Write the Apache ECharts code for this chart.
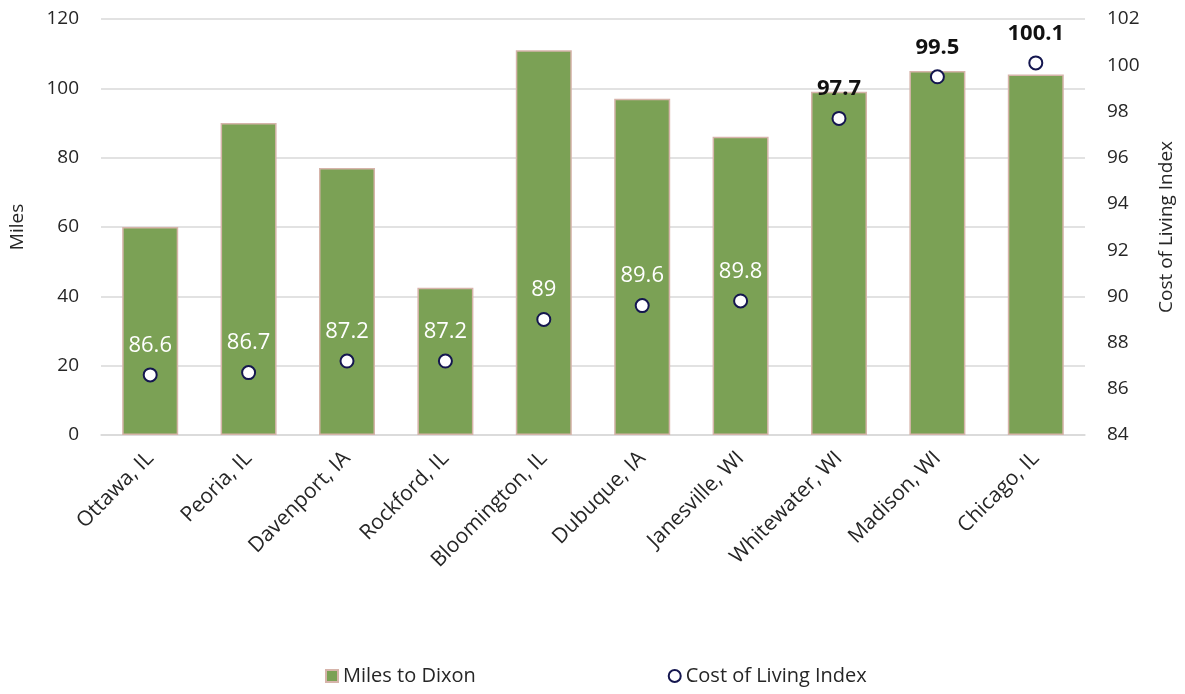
<!DOCTYPE html>
<html>
<head>
<meta charset="utf-8">
<script src="https://cdn.jsdelivr.net/npm/echarts@6/dist/echarts.min.js"></script>
<style>
  html, body { margin: 0; padding: 0; background: #ffffff; }
  #chart { width: 1185px; height: 694px; }
</style>
</head>
<body>
<div id="chart"></div>
<script>
// Cities compared against Dixon, IL
const cities = ['Ottawa, IL', 'Peoria, IL', 'Davenport, IA', 'Rockford, IL', 'Bloomington, IL',
                'Dubuque, IA', 'Janesville, WI', 'Whitewater, WI', 'Madison, WI', 'Chicago, IL'];
// Driving distance to Dixon (miles)
const milesToDixon = [60, 90, 77, 42.5, 111, 97, 86, 99, 105, 104];
// Cost of living index
const costOfLiving = [86.6, 86.7, 87.2, 87.2, 89, 89.6, 89.8, 97.7, 99.5, 100.1];

const milesAxis = { min: 0, max: 120, interval: 20 };
const indexAxis = { min: 84, max: 102, interval: 2 };

const FONT = '"Open Sans", "Noto Sans", sans-serif';
const TEXT = '#262626';
const GRID = '#d9d9d9';

// A label sits over its bar (white) unless the point rises past the bar top (dark)
function labelSitsOnBar(i) {
  const asMiles = (costOfLiving[i] - indexAxis.min) / (indexAxis.max - indexAxis.min) * milesAxis.max;
  return asMiles + 9 < milesToDixon[i];
}

const pointData = costOfLiving.map((v, i) => {
  const onBar = labelSitsOnBar(i);
  return {
    value: v,
    label: {
      color: onBar ? '#ffffff' : '#111111',
      fontWeight: onBar ? 'normal' : 'bold'
    }
  };
});

const chart = echarts.init(document.getElementById('chart'), null, { renderer: 'canvas' });
chart.setOption({
  animation: false,
  backgroundColor: '#ffffff',
  textStyle: { fontFamily: FONT },
  grid: { left: 100, right: 100, top: 19, bottom: 259, containLabel: false },
  legend: {
    bottom: 3,
    left: 320,
    itemGap: 192,
    itemWidth: 12,
    itemHeight: 12,
    textStyle: { fontFamily: FONT, fontSize: 20, color: TEXT },
    data: [
      { name: 'Miles to Dixon', icon: 'rect' },
      { name: 'Cost of Living Index', icon: 'circle' }
    ]
  },
  xAxis: {
    type: 'category',
    data: cities,
    axisTick: { show: false },
    axisLine: { lineStyle: { color: GRID, width: 1.5 } },
    axisLabel: {
      rotate: 45,
      interval: 0,
      margin: 20,
      fontSize: 21,
      color: TEXT,
      fontFamily: FONT
    }
  },
  yAxis: [
    {
      type: 'value',
      min: milesAxis.min, max: milesAxis.max, interval: milesAxis.interval,
      name: 'Miles',
      nameLocation: 'middle',
      nameGap: 74,
      nameTextStyle: { fontSize: 19, color: TEXT, fontFamily: FONT },
      axisLine: { show: false },
      axisTick: { show: false },
      axisLabel: { fontSize: 19, color: TEXT, margin: 22, fontFamily: FONT },
      splitLine: { lineStyle: { color: GRID, width: 1.5 } }
    },
    {
      type: 'value',
      min: indexAxis.min, max: indexAxis.max, interval: indexAxis.interval,
      name: 'Cost of Living Index',
      nameLocation: 'middle',
      nameGap: 72,
      nameTextStyle: { fontSize: 19, color: TEXT, fontFamily: FONT },
      axisLine: { show: false },
      axisTick: { show: false },
      axisLabel: { fontSize: 19, color: TEXT, margin: 22, fontFamily: FONT },
      splitLine: { show: false }
    }
  ],
  series: [
    {
      name: 'Miles to Dixon',
      type: 'bar',
      yAxisIndex: 0,
      data: milesToDixon,
      barWidth: 56,
      itemStyle: { color: '#7ba155', borderColor: '#d6b4aa', borderWidth: 1.5 }
    },
    {
      name: 'Cost of Living Index',
      type: 'scatter',
      yAxisIndex: 1,
      data: pointData,
      symbol: 'circle',
      symbolSize: 13,
      itemStyle: { color: '#ffffff', borderColor: '#14164f', borderWidth: 2, opacity: 1 },
      label: {
        show: true,
        position: 'top',
        distance: 11,
        fontSize: 22,
        fontFamily: FONT
      },
      z: 5
    }
  ]
});
</script>
</body>
</html>
